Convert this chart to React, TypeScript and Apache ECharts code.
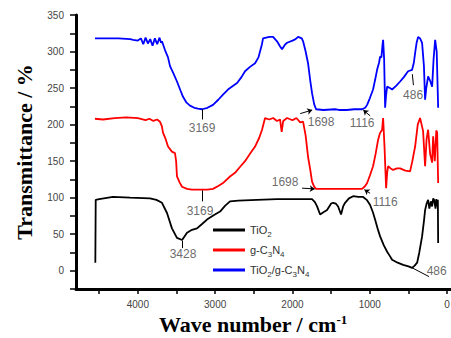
import React, { useEffect, useRef } from "react";
import * as echarts from "echarts";

// Wavenumber (cm-1), transmittance (%) pairs
const tio2: number[][] = [
  [4550, 11], [4545, 97], [4500, 98], [4322, 101], [4100, 100], [3843, 99], [3760, 97], [3688, 93],
  [3623, 79], [3559, 58], [3494, 45], [3428, 42], [3364, 52], [3300, 56], [3235, 58], [3170, 64],
  [3106, 70], [3020, 76], [2937, 81], [2870, 89], [2808, 95], [2700, 96], [2459, 97], [2200, 98],
  [1900, 98], [1747, 98], [1710, 94], [1682, 88], [1643, 77], [1600, 80], [1553, 83], [1500, 92],
  [1475, 93], [1440, 92], [1410, 88], [1372, 77], [1345, 88], [1320, 93], [1270, 99], [1216, 102],
  [1150, 101], [1087, 101], [1040, 97], [996, 90], [960, 80], [932, 70], [900, 58], [867, 47],
  [820, 35], [776, 26], [740, 20], [712, 15], [640, 11], [569, 8], [500, 6], [453, 4], [420, 7],
  [388, 11], [360, 25], [324, 47], [300, 68], [285, 83], [265, 92], [246, 97], [230, 85], [210, 95],
  [194, 88], [180, 99], [168, 97], [150, 85], [140, 98], [129, 88], [120, 97], [116, 38],
];

const gc3n4: number[][] = [
  [4555, 208], [4450, 207], [4300, 209], [4150, 210], [4000, 209], [3900, 206], [3850, 208],
  [3800, 205], [3750, 207], [3714, 204], [3690, 198], [3675, 189], [3640, 180], [3610, 170],
  [3560, 163], [3520, 161], [3505, 150], [3494, 129], [3460, 121], [3429, 115], [3364, 112],
  [3300, 111], [3169, 111], [3100, 111], [3028, 112], [2960, 116], [2899, 120], [2808, 129],
  [2743, 134], [2680, 142], [2614, 150], [2550, 160], [2484, 170], [2430, 182], [2394, 193],
  [2355, 209], [2300, 207], [2250, 209], [2200, 205], [2161, 207], [2140, 190], [2120, 205],
  [2070, 209], [2000, 206], [1950, 209], [1900, 203], [1863, 204], [1830, 185], [1799, 156],
  [1770, 138], [1747, 122], [1720, 115], [1695, 112], [1500, 112], [1300, 112], [1100, 112],
  [1060, 116], [1035, 120], [1000, 130], [958, 143], [925, 160], [893, 179], [870, 188],
  [841, 193], [828, 209], [810, 170], [789, 113], [775, 135], [763, 143], [730, 140], [699, 138],
  [650, 140], [608, 140], [540, 137], [479, 136], [450, 150], [414, 170], [380, 200], [350, 209],
  [330, 200], [311, 191], [285, 143], [266, 180], [246, 193], [220, 160], [194, 148], [181, 184],
  [160, 150], [140, 192], [129, 189], [116, 120],
];

const composite: number[][] = [
  [4555, 318], [4400, 318], [4250, 318], [4100, 317], [4060, 316], [4000, 315], [3960, 318],
  [3930, 310], [3900, 319], [3870, 311], [3840, 317], [3810, 308], [3780, 318], [3750, 310],
  [3720, 319], [3700, 312], [3688, 314], [3649, 302], [3610, 292], [3584, 280], [3540, 270],
  [3494, 259], [3450, 247], [3416, 238], [3370, 230], [3326, 226], [3270, 223], [3222, 222],
  [3169, 221], [3100, 223], [3028, 227], [2960, 234], [2899, 241], [2834, 248], [2808, 250],
  [2717, 257], [2660, 265], [2614, 273], [2550, 279], [2484, 284], [2440, 292], [2420, 300],
  [2395, 310], [2381, 318], [2300, 320], [2251, 320], [2200, 314], [2160, 307], [2135, 303],
  [2100, 309], [2070, 312], [2000, 315], [1960, 317], [1928, 320], [1880, 318], [1863, 314],
  [1830, 300], [1799, 284], [1770, 260], [1747, 243], [1720, 228], [1695, 221], [1600, 220],
  [1450, 221], [1400, 220], [1300, 220], [1200, 221], [1100, 221], [1060, 223], [1035, 227],
  [1000, 236], [958, 248], [930, 262], [906, 275], [880, 285], [867, 293], [850, 292], [835, 310],
  [828, 316], [815, 290], [802, 223], [790, 240], [776, 252], [740, 250], [712, 248], [660, 253],
  [608, 259], [560, 265], [505, 273], [453, 275], [430, 285], [414, 298], [395, 312], [375, 320],
  [350, 318], [324, 312], [300, 280], [285, 234], [270, 250], [246, 266], [220, 260], [194, 252],
  [175, 290], [155, 316], [135, 300], [116, 223],
];

const seriesNames = ["TiO2", "g-C3N4", "TiO2/g-C3N4"];
const seriesColors = ["#000000", "#ff0000", "#0000ff"];

const xLabelValues = [0, 1000, 2000, 3000, 4000];
const xTickValues = [0, 500, 1000, 1500, 2000, 2500, 3000, 3500, 4000, 4500];

// Peak annotations (data coordinates): label, label position, leader line
const annotationTexts = ["3169", "1698", "1116", "486", "3169", "1698", "1116", "3428", "486"];
const annotationLabelPos: number[][] = [
  [3169, 196], [1630, 204], [1100, 202], [440, 241], [3196, 82], [2096, 122], [802, 94], [3416, 23], [135, -1],
];
const plainLeaders: number[][][] = [
  [[3169, 221], [3169, 207]],
  [[450, 269], [436, 254]],
  [[3169, 110], [3169, 95]],
  [[3428, 41], [3428, 31]],
  [[453, 4], [235, -8]],
];
const arrowLeaders: number[][][] = [
  [[1900, 215], [1745, 220]],
  [[996, 212], [1085, 220]],
  [[1876, 113], [1712, 112]],
  [[996, 106], [1070, 111]],
];

const richNames: Record<string, string> = {
  "TiO2": "TiO{s|2}",
  "g-C3N4": "g-C{s|3}N{s|4}",
  "TiO2/g-C3N4": "TiO{s|2}/g-C{s|3}N{s|4}",
};

export default function App() {
  const ref = useRef<HTMLDivElement>(null);
  useEffect(() => {
    if (!ref.current) return;
    const chart = echarts.init(ref.current, null, { renderer: "svg" });
    const lineSeries = [tio2, gc3n4, composite].map((d, i) => ({
      name: seriesNames[i],
      type: "line",
      data: d,
      showSymbol: false,
      symbol: "none",
      lineStyle: { color: seriesColors[i], width: 1.8 },
      itemStyle: { color: seriesColors[i] },
      z: 3 - i,
    }));
    chart.setOption({
      animation: false,
      grid: { left: 76, right: 0, top: 15, bottom: 49, containLabel: false, outerBoundsMode: "none" },
      legend: {
        data: seriesNames,
        orient: "vertical",
        left: 213,
        top: 222,
        padding: 0,
        itemWidth: 32,
        itemHeight: 3,
        itemGap: 4,
        icon: "rect",
        formatter: (n: string) => richNames[n] || n,
        textStyle: {
          fontFamily: "Liberation Sans",
          fontSize: 11,
          color: "#333",
          lineHeight: 16,
          rich: {
            s: { fontFamily: "Liberation Sans", fontSize: 8, color: "#333", verticalAlign: "bottom" },
          },
        },
      },
      xAxis: {
        type: "value",
        inverse: true,
        min: -50,
        max: 4800,
        splitLine: { show: false },
        axisLine: { show: true, onZero: false, lineStyle: { color: "#000", width: 3 } },
        axisTick: { show: true, length: 5, customValues: xTickValues, lineStyle: { color: "#000", width: 1.5 } },
        axisLabel: {
          customValues: xLabelValues,
          showMinLabel: true,
          formatter: (v: number) => String(v),
          margin: 10,
          fontFamily: "Liberation Sans",
          fontSize: 10,
          color: "#444",
        },
      },
      yAxis: {
        type: "value",
        min: -25,
        max: 350,
        interval: 25,
        splitLine: { show: false },
        axisLine: { show: true, onZero: false, lineStyle: { color: "#000", width: 3 } },
        axisTick: { show: true, length: 6, lineStyle: { color: "#000", width: 1.5 } },
        axisLabel: {
          margin: 12,
          fontFamily: "Liberation Sans",
          fontSize: 10,
          color: "#444",
          formatter: (v: number) => (v >= 0 && v % 50 === 0 ? String(v) : ""),
        },
      },
      series: [
        ...lineSeries,
        {
          type: "lines",
          coordinateSystem: "cartesian2d",
          data: plainLeaders.map((c) => ({ coords: c })),
          symbol: ["none", "none"],
          lineStyle: { color: "#000", width: 1, opacity: 1 },
          silent: true,
          z: 5,
        },
        {
          type: "lines",
          coordinateSystem: "cartesian2d",
          data: arrowLeaders.map((c) => ({ coords: c })),
          symbol: ["none", "arrow"],
          symbolSize: 5,
          lineStyle: { color: "#000", width: 1, opacity: 1 },
          silent: true,
          z: 5,
        },
        {
          type: "scatter",
          data: annotationTexts.map((t, i) => ({ name: t, value: annotationLabelPos[i] })),
          symbolSize: 0,
          itemStyle: { color: "transparent" },
          silent: true,
          z: 6,
          label: {
            show: true,
            position: "inside",
            formatter: "{b}",
            fontFamily: "Liberation Sans",
            fontSize: 12,
            color: "#444",
          },
        },
      ],
      graphic: [
        {
          type: "text",
          x: 24,
          y: 152,
          rotation: Math.PI / 2,
          style: {
            text: "Transmittance / %",
            fontFamily: "Liberation Serif",
            fontWeight: "bold",
            fontSize: 22,
            fill: "#000",
            textAlign: "center",
            textVerticalAlign: "middle",
            align: "center",
            verticalAlign: "middle",
          },
        },
        {
          type: "text",
          x: 253,
          y: 324,
          style: {
            text: "Wave number / cm{sup|-1}",
            fontFamily: "Liberation Serif",
            fontWeight: "bold",
            fontSize: 22,
            fill: "#000",
            textAlign: "center",
            textVerticalAlign: "middle",
            align: "center",
            verticalAlign: "middle",
            rich: {
              sup: {
                fontFamily: "Liberation Serif",
                fontWeight: "bold",
                fontSize: 13,
                fill: "#000",
                verticalAlign: "top",
              },
            },
          },
        },
      ],
    });
    return () => chart.dispose();
  }, []);
  return (
    <div
      ref={ref}
      style={{ position: "fixed", left: 0, top: 0, width: 451, height: 338, background: "#fff" }}
    />
  );
}
